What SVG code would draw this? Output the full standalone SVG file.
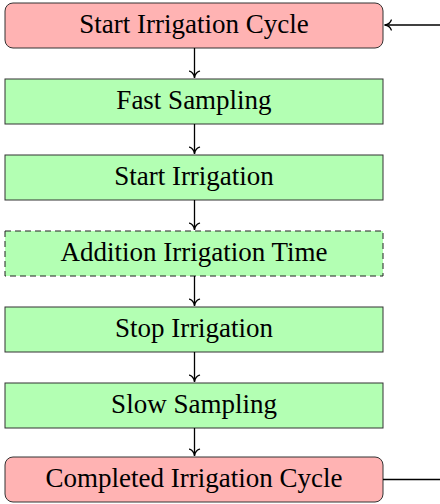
<svg xmlns="http://www.w3.org/2000/svg" width="440" height="504" viewBox="0 0 440 504">
<style>
.term{fill:#ffb3b3;stroke:#333;stroke-width:1}
.proc{fill:#b3ffb3;stroke:#333;stroke-width:1}
.dash{stroke-dasharray:6,4;stroke:#222}
text{font-family:"Liberation Serif","Times New Roman",serif;font-size:27px;fill:#000;text-anchor:middle}
.conn{stroke:#000;stroke-width:1.3;fill:none}
</style>
<defs>
<marker id="arr" viewBox="-7 -6 9 12" refX="0.8" refY="0" markerWidth="9" markerHeight="12" markerUnits="userSpaceOnUse" orient="auto">
<path d="M-6,-5 C-5,-2 -2,-0.4 0.5,0 C-2,0.4 -5,2 -6,5" fill="none" stroke="#000" stroke-width="1.3" stroke-linecap="round"/>
</marker>
</defs>
<g id="n1"><rect class="term" x="5" y="3" width="378" height="45" rx="8"/><text x="194" y="33">Start Irrigation Cycle</text></g>
<g id="n2"><rect class="proc" x="5" y="79" width="378" height="45"/><text x="194" y="109">Fast Sampling</text></g>
<g id="n3"><rect class="proc" x="5" y="155" width="378" height="45"/><text x="194" y="185">Start Irrigation</text></g>
<g id="n4"><rect class="proc dash" x="5" y="231" width="378" height="45"/><text x="194" y="261">Addition Irrigation Time</text></g>
<g id="n5"><rect class="proc" x="5" y="307" width="378" height="45"/><text x="194" y="337">Stop Irrigation</text></g>
<g id="n6"><rect class="proc" x="5" y="383" width="378" height="45"/><text x="194" y="413">Slow Sampling</text></g>
<g id="n7"><rect class="term" x="5" y="457" width="378" height="45" rx="8"/><text x="194" y="487">Completed Irrigation Cycle</text></g>
<g id="connectors">
<line class="conn" x1="194.5" y1="48" x2="194.5" y2="78" marker-end="url(#arr)"/>
<line class="conn" x1="194.5" y1="124" x2="194.5" y2="154" marker-end="url(#arr)"/>
<line class="conn" x1="194.5" y1="200" x2="194.5" y2="230" marker-end="url(#arr)"/>
<line class="conn" x1="194.5" y1="276" x2="194.5" y2="306" marker-end="url(#arr)"/>
<line class="conn" x1="194.5" y1="352" x2="194.5" y2="382" marker-end="url(#arr)"/>
<line class="conn" x1="194.5" y1="428" x2="194.5" y2="456" marker-end="url(#arr)"/>
<line class="conn" x1="440" y1="25" x2="384.5" y2="25" marker-end="url(#arr)"/>
<line class="conn" x1="383" y1="479.5" x2="440" y2="479.5"/>
</g>
</svg>
